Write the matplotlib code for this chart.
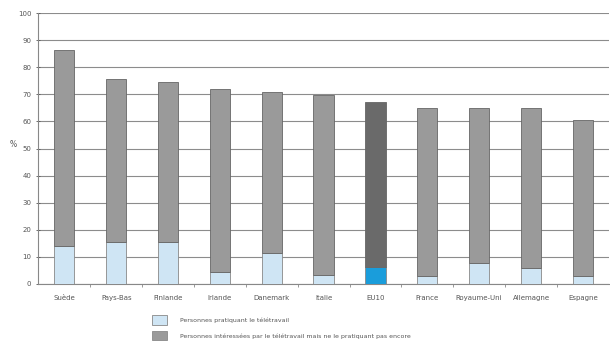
import matplotlib.pyplot as plt
from matplotlib.patches import Patch

pays = ['Suède', 'Pays-Bas', 'Finlande', 'Irlande', 'Danemark', 'Italie',
        'EU10', 'France', 'Royaume-Uni', 'Allemagne', 'Espagne']
total = [86.5, 75.6, 74.7, 71.9, 70.9, 69.9, 67.0, 64.9, 64.8, 64.8, 60.5]
pratiquant = [14.1, 15.3, 15.3, 4.5, 11.6, 3.4, 6.2, 3.0, 7.9, 6.0, 3.1]
interesses = [t - p for t, p in zip(total, pratiquant)]

light = '#cfe5f4'
grey = '#9a9a9a'
txt = '#555555'

plt.rcParams['font.family'] = 'DejaVu Sans'
fig = plt.figure(figsize=(6.1, 3.45), dpi=100)
ax = fig.add_axes([0.063, 0.177, 0.935, 0.785])

x = list(range(len(pays)))
c_low = [light] * len(pays)
c_high = [grey] * len(pays)
i_eu = pays.index('EU10')
c_low[i_eu] = '#1a9ddb'
c_high[i_eu] = '#6a6a6a'

ax.bar(x, pratiquant, width=0.39, color=c_low, edgecolor='#888888', linewidth=0.6, zorder=3)
ax.bar(x, interesses, width=0.39, bottom=pratiquant, color=c_high,
       edgecolor='#666666', linewidth=0.6, zorder=3)

ax.set_xlim(-0.5, len(pays) - 0.5)
ax.set_ylim(0, 100)
ax.set_yticks(range(0, 101, 10))
ax.yaxis.grid(True, color='#8c8c8c', linewidth=0.8, zorder=0)
ax.set_axisbelow(True)
for s in ['top', 'right']:
    ax.spines[s].set_visible(False)
ax.spines['left'].set_color('#888888')
ax.spines['bottom'].set_color('#888888')
ax.set_xticks(x)
ax.set_xticklabels(pays, fontsize=5, color=txt)
ax.set_xticks([i + 0.5 for i in x[:-1]], minor=True)
ax.tick_params(axis='x', which='major', length=0, pad=8)
ax.tick_params(axis='x', which='minor', length=2, color='#888888', direction='out')
ax.tick_params(axis='y', labelsize=5, colors=txt, length=3, direction='inout', width=0.6)
ax.set_ylabel('%', fontsize=5.5, color=txt, rotation=0, labelpad=8)
ax.yaxis.set_label_coords(-0.045, 0.5)

handles = [Patch(facecolor=light, edgecolor='#888888', linewidth=0.6),
           Patch(facecolor=grey, edgecolor='#888888', linewidth=0.6)]
labels = ['Personnes pratiquant le télétravail',
          'Personnes intéressées par le télétravail mais ne le pratiquant pas encore']
fig.legend(handles, labels, loc='lower left', bbox_to_anchor=(0.24, -0.003),
           frameon=False, fontsize=4.5, labelcolor=txt, handlelength=2.4,
           handleheight=2.0, labelspacing=0.9, handletextpad=2.0)

fig.savefig('out.png', dpi=100)
